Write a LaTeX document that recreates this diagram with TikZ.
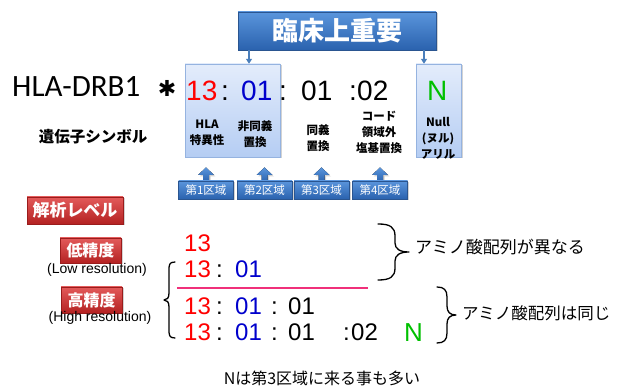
\documentclass[tikz,border=0pt]{standalone}
\usepackage{fontspec}
\setmainfont{Liberation Sans}
\newfontfamily\jp{Noto Sans CJK JP}
\newfontfamily\calfont{Carlito}
\newfontfamily\djv{DejaVu Sans}
\usetikzlibrary{shadows,arrows.meta}
\definecolor{bluetop}{HTML}{5A95DC}
\definecolor{bluebot}{HTML}{2A62AE}
\definecolor{blueedge}{HTML}{2A5590}
\definecolor{lbtop}{HTML}{E3ECFB}
\definecolor{lbbot}{HTML}{B5CDF3}
\definecolor{lbedge}{HTML}{95B3E0}
\definecolor{redtop}{HTML}{E35A5A}
\definecolor{redbot}{HTML}{B42222}
\definecolor{redge}{HTML}{9A1C1C}
\definecolor{dred}{HTML}{FF0000}
\definecolor{dblue}{HTML}{0000CC}
\definecolor{dgreen}{HTML}{00C000}
\definecolor{pinkline}{HTML}{F0307A}
\definecolor{arrowblue}{HTML}{4A7EBB}
\tikzset{
  shad/.style={drop shadow={opacity=0.35,shadow xshift=1.5pt,shadow yshift=-1.5pt}},
  bluebox/.style={draw=blueedge,top color=bluetop,bottom color=bluebot,shad,inner sep=0pt,text=white},
  lightbox/.style={draw=lbedge,top color=lbtop,bottom color=lbbot,shad,inner sep=0pt},
  redbox/.style={draw=redge,top color=redtop,bottom color=redbot,shad,inner sep=0pt,text=white},
  big/.style={font=\fontsize{28}{28}\selectfont,inner sep=0pt,anchor=base west},
  mid/.style={font=\fontsize{24}{24}\selectfont,inner sep=0pt,anchor=base west},
  lab/.style={font=\jp\bfseries\fontsize{11.5}{16}\selectfont,align=center,inner sep=0pt},
  conn/.style={draw=arrowblue,line width=1.5pt,-{Triangle[length=5pt,width=6pt]}},
  brc/.style={line width=1.3pt,line cap=round,line join=round},
}
\begin{document}
\begin{tikzpicture}[x=1pt,y=-1pt]
\useasboundingbox (0,0) rectangle (622,387);
% top clinical box
\node[bluebox,minimum width=198pt,minimum height=38pt,font=\jp\bfseries\fontsize{26}{26}\selectfont] (clin) at (337,31) {臨床上重要};
% light boxes
\node[lightbox,minimum width=95pt,minimum height=93pt] (box1) at (232.5,110.5) {};
\node[lightbox,minimum width=45pt,minimum height=93pt] (boxn) at (438.5,110.5) {};
\coordinate (a1) at (249,50);
\coordinate (a2) at (424,50);
\draw[conn] (a1) -- (a1 |- box1.north);
\draw[conn] (a2) -- (a2 |- boxn.north);
% main allele line
\node[font=\calfont\fontsize{31}{31}\selectfont,inner sep=0pt,anchor=base west] (gene) at (12,97) {HLA-DRB1};
\node[font=\djv\fontsize{22}{22}\selectfont,inner sep=0pt] (ast) at (167,88) {✱};
\node[big,text=dred] (t13) at (186,101) {13};
\node[big] (c1) at (221,101) {:};
\node[big,text=dblue] (t01) at (241,101) {01};
\node[big] (c2) at (279,101) {:};
\node[big] (t01b) at (301,101) {01};
\node[big] (c3) at (349,101) {:};
\node[big] (t02) at (357,101) {02};
\node[big,text=dgreen] (tN) at (427,101) {N};
% labels
\node[lab] (l1) at (207,133) {HLA\\特異性};
\node[lab] (l2) at (255,134) {非同義\\置換};
\node[lab] (l3) at (318,138) {同義\\置換};
\node[lab] (l4) at (379,132) {コード\\領域外\\塩基置換};
\node[lab] (l5) at (438,138.5) {Null\\(ヌル)\\アリル};
\node[font=\jp\bfseries\fontsize{15.5}{16}\selectfont,inner sep=0pt] (sym) at (93,137) {遺伝子シンボル};
% region boxes with up arrows
\foreach \cx/\t/\n in {206/第1区域/r1,264.5/第2区域/r2,321.5/第3区域/r3,380/第4区域/r4}{
  \fill[top color=bluetop,bottom color=bluebot,shad] (\cx-3,182) -- (\cx-3,175) -- (\cx-8,175) -- (\cx,167.5) -- (\cx+8,175) -- (\cx+3,175) -- (\cx+3,182) -- cycle;
  \node[bluebox,minimum width=55pt,minimum height=18pt,font=\jp\fontsize{11.5}{12}\selectfont] (\n) at (\cx,190) {\t};
}
% analysis level
\node[redbox,minimum width=96pt,minimum height=27pt,font=\jp\bfseries\fontsize{17}{17}\selectfont] (lvl) at (75,210.5) {解析レベル};
\node[redbox,minimum width=61pt,minimum height=25pt,font=\jp\bfseries\fontsize{16}{16}\selectfont] (low) at (90.5,250.5) {低精度};
\node[redbox,minimum width=61pt,minimum height=26pt,font=\jp\bfseries\fontsize{16}{16}\selectfont] (high) at (91.5,300) {高精度};
\node[font=\fontsize{14}{14}\selectfont,inner sep=0pt] (lowt) at (97,270) {(Low resolution)};
\node[font=\fontsize{14}{14}\selectfont,inner sep=0pt] (hight) at (100,318) {(High resolution)};
% rows
\node[mid,text=dred] (r1a) at (184,252) {13};
\node[mid,text=dred] (r2a) at (184,278) {13};
\node[mid] (r2b) at (216,278) {:};
\node[mid,text=dblue] (r2c) at (235,278) {01};
\node[mid,text=dred] (r3a) at (184,315) {13};
\node[mid] (r3b) at (216,315) {:};
\node[mid,text=dblue] (r3c) at (235,315) {01};
\node[mid] (r3d) at (271,315) {:};
\node[mid] (r3e) at (288,315) {01};
\node[mid,text=dred] (r4a) at (184,341) {13};
\node[mid] (r4b) at (216,341) {:};
\node[mid,text=dblue] (r4c) at (235,341) {01};
\node[mid] (r4d) at (271,341) {:};
\node[mid] (r4e) at (288,341) {01};
\node[mid] (r4f) at (343,341) {:};
\node[mid] (r4g) at (351,341) {02};
\node[font=\fontsize{26}{26}\selectfont,inner sep=0pt,anchor=base west,text=dgreen] (r4n) at (404,342) {N};
\draw[pinkline,line width=1.5pt] (177,288) -- (368,288);
% braces
\draw[brc] (175,262) .. controls (169,262) and (169,265) .. (169,271) -- (169,293) .. controls (169,298) and (167,300) .. (164,300) .. controls (167,300) and (169,302) .. (169,307) -- (169,329) .. controls (169,335) and (169,338) .. (175,338);
\draw[brc] (378,224) .. controls (390,224) and (395,227) .. (395,236) -- (395,243) .. controls (395,249) and (400,252) .. (409,252) .. controls (400,252) and (395,255) .. (395,261) -- (395,268) .. controls (395,277) and (390,280) .. (378,280);
\draw[brc] (437,287) .. controls (444,287) and (447,290) .. (447,297) -- (447,306) .. controls (447,312) and (450,315) .. (456,315) .. controls (450,315) and (447,318) .. (447,324) -- (447,333) .. controls (447,340) and (444,343) .. (437,343);
\node[font=\jp\fontsize{17}{17}\selectfont,inner sep=0pt,anchor=west] (diff) at (415,247) {アミノ酸配列が異なる};
\node[font=\jp\fontsize{16.5}{17}\selectfont,inner sep=0pt,anchor=west] (same) at (462,313) {アミノ酸配列は同じ};
\node[font=\jp\fontsize{16}{16}\selectfont,inner sep=0pt] (note) at (322,378) {Nは第3区域に来る事も多い};
\end{tikzpicture}
\end{document}
